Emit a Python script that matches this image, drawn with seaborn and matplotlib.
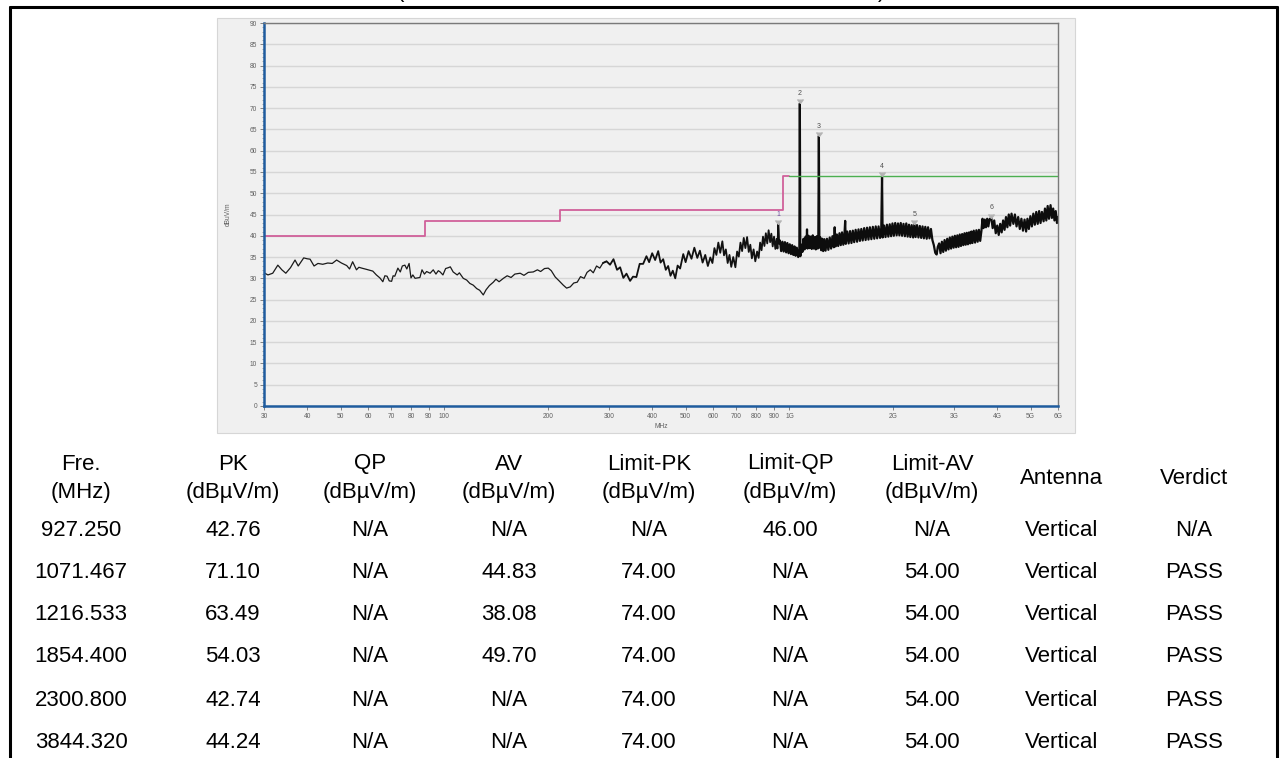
import matplotlib
matplotlib.use("Agg")
import matplotlib.pyplot as plt
from matplotlib.lines import Line2D
from matplotlib.patches import Rectangle
import numpy as np
import pandas as pd
import seaborn as sns

# ---------------- data ----------------
# measured trace, 30 MHz - 6 GHz (read off the scan)
trace_mhz = [
    30, 30.8, 31.8, 32.9, 33.8, 34.7, 35.8, 36.9, 37.7, 39.1, 40.0, 40.8, 41.9, 43.0,
    44.4, 45.9, 47.3, 48.7, 50.3, 52.1, 53.1, 54.2, 55.6, 56.5, 57.6, 59.5, 62.0, 63.5,
    65.0, 66.3, 67.2, 68.2, 69.2, 70.3, 71.0, 71.8, 73.3, 74.5, 75.5, 76.8, 77.8, 79.0,
    80.0, 81.0, 82.2, 84.9, 86.1, 87.5, 88.8, 90.9, 92.8, 94.5, 96.0, 97.2, 99.0, 100.8,
    102.6, 104.0, 106.0, 108.9, 110.5, 113.4, 116.0, 118.5, 121.2, 124.0, 126.5, 129.6,
    132.0, 135.0, 138.6, 141.0, 144.0, 148.2, 152.0, 156.0, 160.0, 165.8, 170.0, 175.0,
    180.9, 186.0, 190.0, 195.0, 199.9, 204.0, 209.5, 215.0, 221.0, 226.0, 231.6, 237.0,
    242.6, 248.0, 254.0, 259.0, 264.7, 270.0, 276.0, 282.0, 288.0,
    295.0, 302.0, 309.0, 316.4, 323.0, 330.0, 337.0, 345.2, 352.0, 360.0, 368.0, 376.6,
    385.0, 392.0, 400.0, 408.0, 416.4, 423.0, 430.5, 438.0, 445.0, 452.0, 459.0, 466.6,
    474.0, 482.0, 492.2, 500.0, 510.0, 520.0, 530.0, 540.5, 550.0, 560.0, 570.0, 580.0,
    589.6, 598.0, 606.0, 614.0, 622.0, 630.0, 638.9, 646.0, 654.0, 662.0, 670.0, 678.0,
    687.0, 697.0, 705.0, 713.0, 721.0, 729.0, 737.0, 745.0, 753.6, 762.0, 770.0, 778.0,
    787.0, 796.0, 805.6, 814.0, 822.0, 830.0, 838.0, 846.0, 854.0, 862.0, 870.0, 878.9,
    886.0, 894.0, 902.0, 910.0, 918.0, 923.0, 927.25, 931.0, 938.0, 946.0, 954.0, 962.0,
    970.0, 978.0, 986.0, 994.0, 1002.0, 1010.0, 1018.0, 1026.0, 1034.0, 1042.0, 1050.0,
    1060.0, 1068.0, 1071.467, 1075.0, 1082.0, 1090.0, 1098.0, 1106.0, 1114.0, 1120.0,
    1124.0, 1128.0, 1136.0, 1144.0, 1152.0, 1160.0, 1168.0, 1176.0, 1184.0, 1192.0,
    1200.0, 1208.0, 1212.0, 1216.533, 1221.0, 1228.0, 1236.0, 1244.0, 1252.0, 1262.0,
    1272.0, 1284.0, 1296.0, 1308.0, 1320.0, 1332.0, 1344.0, 1352.0, 1360.0, 1372.0,
    1384.0, 1396.0, 1408.0, 1420.0, 1432.0, 1444.0, 1450.0, 1456.0, 1470.0, 1484.0,
    1498.0, 1512.0, 1526.0, 1540.0, 1555.0, 1570.0, 1585.0, 1600.0, 1615.0, 1630.0,
    1646.0, 1662.0, 1678.0, 1694.0, 1710.0, 1727.0, 1744.0, 1761.0, 1778.0, 1795.0,
    1812.0, 1830.0, 1845.0, 1854.4, 1862.0, 1880.0, 1898.0, 1916.0, 1934.0, 1952.0,
    1970.0, 1988.0, 2006.0, 2025.0, 2044.0, 2063.0, 2082.0, 2101.0, 2120.0, 2140.0,
    2160.0, 2180.0, 2200.0, 2220.0, 2240.0, 2260.0, 2282.0, 2300.8, 2320.0, 2342.0,
    2364.0, 2386.0, 2408.0, 2430.0, 2452.0, 2475.0, 2498.0, 2521.0, 2545.0, 2570.0,
    2595.0, 2620.0, 2645.0, 2670.0, 2690.0, 2715.0, 2740.0, 2765.0, 2790.0, 2815.0,
    2840.0, 2865.0, 2890.0, 2915.0, 2940.0, 2965.0, 2990.0, 3015.0, 3040.0, 3065.0,
    3090.0, 3115.0, 3140.0, 3165.0, 3190.0, 3215.0, 3240.0, 3265.0, 3290.0, 3315.0,
    3340.0, 3365.0, 3390.0, 3420.0, 3450.0, 3480.0, 3510.0, 3540.0, 3570.0, 3600.0,
    3625.0, 3650.0, 3680.0, 3710.0, 3740.0, 3770.0, 3800.0, 3844.32, 3880.0, 3920.0,
    3960.0, 4000.0, 4040.0, 4080.0, 4120.0, 4160.0, 4200.0, 4240.0, 4280.0, 4320.0,
    4360.0, 4400.0, 4455.0, 4500.0, 4550.0, 4600.0, 4650.0, 4700.0, 4750.0, 4800.0,
    4850.0, 4893.0, 4940.0, 4990.0, 5040.0, 5090.0, 5140.0, 5190.0, 5240.0, 5290.0,
    5340.0, 5390.0, 5450.0, 5500.0, 5550.0, 5600.0, 5650.0, 5709.0, 5760.0, 5810.0,
    5860.0, 5910.0, 5960.0, 6000.0,
]
trace_dbuv = [
    31.3, 30.8, 31.2, 33.1, 32.0, 31.2, 32.5, 34.3, 32.9, 34.8, 34.6, 34.5, 32.9, 33.5,
    33.3, 33.6, 33.5, 34.3, 33.6, 33.0, 32.2, 33.9, 32.0, 32.6, 32.4, 32.1, 31.7, 30.8,
    30.1, 29.2, 30.6, 30.5, 29.4, 29.3, 30.6, 30.5, 32.4, 31.5, 32.9, 33.1, 32.2, 33.5,
    30.1, 30.8, 30.0, 30.2, 32.0, 31.0, 31.6, 31.2, 32.0, 31.0, 31.8, 31.5, 30.8, 32.3,
    32.5, 32.7, 31.5, 30.8, 31.3, 30.0, 29.6, 28.8, 28.4, 27.6, 27.2, 26.1,
    27.3, 28.3, 29.1, 29.8, 29.2, 30.0, 30.6, 30.2, 31.0, 31.2, 30.7, 31.4,
    31.5, 32.0, 31.6, 32.3, 32.4, 31.8, 30.3, 29.4, 28.4, 27.7, 28.0, 28.9,
    29.1, 30.4, 30.0, 31.4, 32.0, 31.3, 32.9, 32.4, 33.6,
    34.0, 33.2, 34.5, 32.0, 32.6, 30.1, 31.1, 29.4, 30.4, 30.3, 33.4, 33.4,
    35.2, 33.8, 35.9, 34.3, 36.4, 33.7, 34.5, 32.0, 32.9, 30.6, 31.8, 30.0,
    33.0, 32.3, 35.7, 33.8, 36.4, 34.6, 37.2, 34.8, 36.5, 33.7, 35.5, 32.9,
    34.9, 33.6, 37.1, 35.5, 38.4, 36.0, 38.7, 35.4, 36.8, 33.6, 35.5, 32.7,
    35.0, 32.6, 36.3, 35.1, 38.4, 36.4, 39.5, 37.1, 39.7, 36.2, 37.9, 34.7,
    36.8, 34.0, 36.3, 34.8, 38.4, 36.6, 39.8, 37.6, 40.6, 38.2, 41.3, 38.5,
    40.5, 37.5, 39.8, 36.9, 39.3, 37.0, 42.76, 38.2, 38.9, 36.4, 38.6, 36.3,
    38.5, 36.1, 38.3, 35.9, 38.0, 35.7, 37.8, 35.5, 37.5, 35.3, 37.2,
    35.0, 36.8, 71.10, 35.2, 37.9, 36.2, 39.3, 36.8, 39.8, 37.2,
    41.5, 37.0, 40.0, 37.1, 39.8, 36.9, 40.1, 37.0, 39.7, 36.8,
    39.9, 37.0, 39.2, 63.49, 37.2, 39.6, 36.6, 39.3, 36.4, 39.2,
    36.5, 39.3, 36.7, 39.6, 37.0, 39.9, 37.3, 42.0, 37.5, 40.3,
    37.6, 40.6, 37.8, 40.8, 37.9, 40.7, 43.5, 38.1, 41.0, 38.2,
    41.1, 38.3, 41.2, 38.5, 41.4, 38.6, 41.5, 38.8, 41.6, 38.9,
    41.8, 39.0, 41.9, 39.1, 42.0, 39.2, 42.1, 39.3, 42.2, 39.4,
    42.2, 39.5, 41.9, 54.03, 39.6, 42.4, 39.7, 42.6, 39.8, 42.7,
    39.9, 42.9, 40.0, 43.0, 40.1, 42.9, 40.1, 43.0, 40.0, 42.8,
    39.9, 42.9, 39.8, 42.6, 39.7, 42.5, 39.6, 42.74, 39.7, 42.5,
    39.6, 42.3, 39.5, 42.2, 39.4, 42.1, 39.3, 42.0, 39.4, 41.6,
    39.0, 37.8, 36.0, 35.6, 37.4, 38.2, 35.9, 38.6, 36.2, 39.0,
    36.5, 39.3, 36.8, 39.6, 37.0, 39.8, 37.2, 40.0, 37.3, 40.1,
    37.4, 40.3, 37.6, 40.4, 37.8, 40.6, 37.9, 40.7, 38.0, 40.8,
    38.2, 41.0, 38.3, 41.2, 38.4, 41.3, 38.6, 41.4, 38.8, 41.2,
    44.0, 41.8, 43.8, 42.0, 44.0, 42.2, 43.9, 44.24, 41.8, 43.6,
    40.6, 42.4, 40.2, 42.8, 40.8, 43.6, 41.4, 44.4, 42.0, 45.0,
    42.4, 45.2, 42.8, 45.0, 42.2, 44.4, 41.6, 44.0, 41.2, 43.8,
    41.0, 44.0, 41.6, 44.6, 42.2, 45.2, 42.6, 45.6, 42.8, 45.8,
    43.0, 45.6, 43.4, 46.4, 43.6, 47.0, 44.0, 47.2, 44.2, 46.4,
    43.6, 45.8, 43.0, 44.4,
]

# limit lines (step edges in MHz, level in dBuV/m)
limit_edge_mhz = [30, 88, 216, 960, 1000]
limit_edge_dbuv = [40, 43.5, 46, 54, 54]
limit_hi_mhz = [1000, 6000]
limit_hi_dbuv = [54, 54]

# table
col_head_1 = ["Fre.", "PK", "QP", "AV", "Limit-PK", "Limit-QP", "Limit-AV", "Antenna", "Verdict"]
col_head_2 = ["(MHz)", "(dBµV/m)", "(dBµV/m)", "(dBµV/m)", "(dBµV/m)", "(dBµV/m)", "(dBµV/m)", "", ""]
freq_col = ["927.250", "1071.467", "1216.533", "1854.400", "2300.800", "3844.320"]
pk_col = ["42.76", "71.10", "63.49", "54.03", "42.74", "44.24"]
qp_col = ["N/A", "N/A", "N/A", "N/A", "N/A", "N/A"]
av_col = ["N/A", "44.83", "38.08", "49.70", "N/A", "N/A"]
limit_pk_col = ["N/A", "74.00", "74.00", "74.00", "74.00", "74.00"]
limit_qp_col = ["46.00", "N/A", "N/A", "N/A", "N/A", "N/A"]
limit_av_col = ["N/A", "54.00", "54.00", "54.00", "54.00", "54.00"]
antenna_col = ["Vertical"] * 6
verdict_col = ["N/A", "PASS", "PASS", "PASS", "PASS", "PASS"]

x_tick_mhz = [30, 40, 50, 60, 70, 80, 90, 100, 200, 300, 400, 500, 600, 700, 800, 900,
              1000, 2000, 3000, 4000, 5000, 6000]
x_tick_txt = ["30", "40", "50", "60", "70", "80", "90", "100", "200", "300", "400", "500",
              "600", "700", "800", "900", "1G", "2G", "3G", "4G", "5G", "6G"]

# ---------------- figure ----------------
sns.set_style("white")
plt.rcParams["font.family"] = ["Liberation Sans", "DejaVu Sans"]

W, H = 1281, 758
fig = plt.figure(figsize=(W / 100, H / 100), dpi=100)


def fx(px):
    return px / W


def fy(py):
    return 1 - py / H


# outer black frame (open at the bottom)
for xs, ys in [([10, 1277], [7, 7]), ([10, 10], [7, 760]), ([1277, 1277], [7, 760])]:
    fig.add_artist(Line2D([fx(v) for v in xs], [fy(v) for v in ys], color="black", lw=2.2))

# caption parentheses, mostly cut off at the top like in the report
fig.text(fx(400), fy(-8), "(", fontsize=16, ha="center", va="center", color="black")
fig.text(fx(882), fy(-8), ")", fontsize=16, ha="center", va="center", color="black")

# grey chart panel behind the axes
fig.add_artist(Rectangle((fx(217), fy(433)), fx(1075) - fx(217), fy(18) - fy(433),
                         facecolor="#f0f0f0", edgecolor="#d6d6d6", lw=0.8, zorder=-5))

ax = fig.add_axes([fx(264), fy(406), fx(1058) - fx(264), fy(23) - fy(406)])
ax.set_facecolor("#f0f0f0")
ax.set_xscale("log")

# thin trace at low frequencies, denser/thicker where the scan gets noisy
df = pd.DataFrame({"mhz": trace_mhz, "level": trace_dbuv})
sns.lineplot(data=df[df["mhz"] <= 296], x="mhz", y="level", color="#1a1a1a", lw=0.9,
             estimator=None, sort=False, ax=ax)
sns.lineplot(data=df[(df["mhz"] >= 288) & (df["mhz"] <= 931)], x="mhz", y="level",
             color="#111111", lw=1.3, estimator=None, sort=False, ax=ax)
sns.lineplot(data=df[df["mhz"] >= 927], x="mhz", y="level", color="#0d0d0d", lw=1.6,
             estimator=None, sort=False, ax=ax)

sns.lineplot(x=limit_edge_mhz, y=limit_edge_dbuv, drawstyle="steps-post", color="#d0609a",
             lw=1.3, estimator=None, sort=False, ax=ax)
sns.lineplot(x=limit_hi_mhz, y=limit_hi_dbuv, color="#4caf50", lw=1.0,
             estimator=None, sort=False, ax=ax)

# peak markers
peak_mhz = [float(v) for v in freq_col]
peak_dbuv = [float(v) for v in pk_col]
ax.plot(peak_mhz, peak_dbuv, ls="none", marker=7, ms=4, color="#b4b4b4", zorder=5)
for i, (f, v) in enumerate(zip(peak_mhz, peak_dbuv)):
    ax.annotate(str(i + 1), (f, v), xytext=(0, 4.5), textcoords="offset points",
                ha="center", va="bottom", fontsize=5, color="#7050a0" if i == 0 else "#505050")

ax.set_xlim(30, 6000)
ax.set_ylim(0, 90)
ax.set_yticks(np.arange(0, 91, 5))
ax.set_yticks(np.arange(0, 91, 1), minor=True)
ax.set_xticks(x_tick_mhz)
ax.set_xticklabels(x_tick_txt)
ax.xaxis.set_minor_locator(matplotlib.ticker.NullLocator())
ax.tick_params(axis="both", which="major", labelsize=4.8, labelcolor="#606060",
               color="#707070", length=3, width=0.6, pad=2, direction="out",
               left=True, bottom=True)
ax.tick_params(axis="y", which="minor", color="#909090", length=1.5, width=0.5,
               direction="out", left=True)
ax.yaxis.grid(True, color="#d6d6d6", lw=1.0)
ax.xaxis.grid(False)
ax.set_axisbelow(True)
ax.set_xlabel("MHz", fontsize=4.8, color="#606060")
ax.set_ylabel("dBuV/m", fontsize=4.8, color="#606060")
ax.xaxis.set_label_coords(0.5, -0.045)
ax.yaxis.set_label_coords(-0.040, 0.5)

for side in ["left", "bottom"]:
    ax.spines[side].set_color("#1f5c9e")
    ax.spines[side].set_linewidth(1.8)
for side in ["top", "right"]:
    ax.spines[side].set_color("#7a7a7a")
    ax.spines[side].set_linewidth(1.0)

# ---------------- table ----------------
col_x = [81, 233, 370, 509, 649, 790, 932, 1062, 1194]
head_y1, head_y2 = 464, 492
row_y = [531, 573, 615, 657, 700, 742]
columns = [freq_col, pk_col, qp_col, av_col, limit_pk_col, limit_qp_col, limit_av_col,
           antenna_col, verdict_col]

for cx, h1, h2, col in zip(col_x, col_head_1, col_head_2, columns):
    if h2:
        fig.text(fx(cx), fy(head_y1), h1, fontsize=16, ha="center", va="center", color="black")
        fig.text(fx(cx), fy(head_y2), h2, fontsize=16, ha="center", va="center", color="black")
    else:
        fig.text(fx(cx), fy((head_y1 + head_y2) / 2), h1, fontsize=16, ha="center",
                 va="center", color="black")
    for ry, val in zip(row_y, col):
        fig.text(fx(cx), fy(ry), val, fontsize=16, ha="center", va="center", color="black")

fig.savefig("out.png", dpi=100)
plt.close(fig)
